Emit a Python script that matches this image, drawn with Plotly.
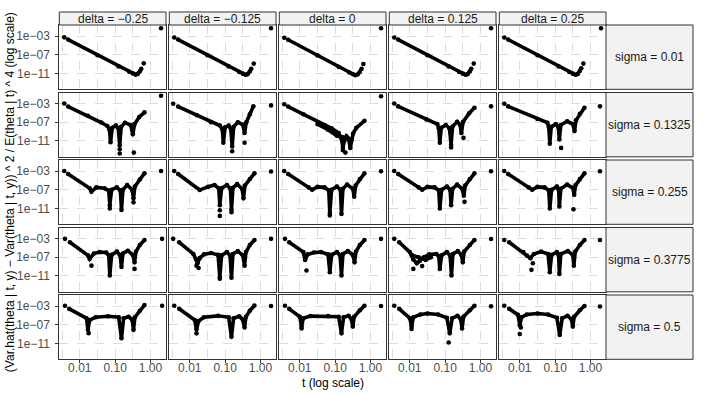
import plotly.graph_objects as go

# ---------------- labels ----------------
DELTAS = ["delta = \u22120.25", "delta = \u22120.125", "delta = 0", "delta = 0.125", "delta = 0.25"]
SIGMAS = ["sigma = 0.01", "sigma = 0.1325", "sigma = 0.255", "sigma = 0.3775", "sigma = 0.5"]
X_TICKS = [0.01, 0.1, 1.0]
X_TICK_TEXT = ["0.01", "0.10", "1.00"]
X_MINOR = [10 ** -2.5, 10 ** -1.5, 10 ** -0.5]
Y_TICKS = [1e-3, 1e-7, 1e-11]
Y_TICK_TEXT = ["1e\u221203", "1e\u221207", "1e\u221211"]
X_TITLE = "t (log scale)"
Y_TITLE = "(Var.hat(theta | t, y) \u2212 Var(theta | t, y)) ^ 2 / E(theta | t) ^ 4 (log scale)"

# ---------------- data: (log10 t, log10 value) ----------------
# BAND_rc = dense band of points (traced), DOTS_rc = isolated points
# row 1 : sigma = 0.01
BAND_11 = [(-2.33, -3.75), (-1.5, -7.1), (-0.9, -9.5), (-0.6, -10.65), (-0.5, -11.0), (-0.42, -11.25),
           (-0.36, -11.1), (-0.3, -10.6), (-0.26, -10.0)]
DOTS_11 = [(-2.44, -3.28), (-0.19, -8.85), (0.3, -1.35)]
BAND_12 = [(-2.33, -3.75), (-1.5, -7.1), (-0.9, -9.5), (-0.6, -10.7), (-0.5, -11.05), (-0.42, -11.3),
           (-0.36, -11.15), (-0.3, -10.6), (-0.26, -10.0)]
DOTS_12 = [(-2.44, -3.3), (-0.19, -8.9), (0.3, -1.35)]
BAND_13 = [(-2.33, -3.8), (-1.5, -7.15), (-0.9, -9.6), (-0.6, -10.8), (-0.5, -11.15), (-0.43, -11.4),
           (-0.36, -11.2), (-0.3, -10.7), (-0.25, -10.0)]
DOTS_13 = [(-2.44, -3.36), (-0.2, -9.0), (0.3, -1.35)]
BAND_14 = [(-2.33, -3.75), (-1.5, -7.1), (-0.9, -9.5), (-0.6, -10.7), (-0.5, -11.05), (-0.42, -11.3),
           (-0.36, -11.15), (-0.3, -10.6), (-0.26, -10.0)]
DOTS_14 = [(-2.44, -3.3), (-0.19, -8.9), (0.3, -1.35)]
BAND_15 = [(-2.33, -3.75), (-1.5, -7.1), (-0.9, -9.5), (-0.6, -10.7), (-0.5, -11.05), (-0.42, -11.3),
           (-0.36, -11.1), (-0.3, -10.5), (-0.26, -9.9)]
DOTS_15 = [(-2.44, -3.3), (-0.2, -8.9), (0.3, -1.35)]

# row 2 : sigma = 0.1325
BAND_21 = [(-2.33, -3.64), (-1.77, -5.6), (-1.39, -7.07), (-1.22, -7.8), (-1.16, -8.6), (-1.13, -11.3),
           (-1.08, -8.2), (-0.98, -7.7), (-0.91, -8.3), (-0.87, -12.0), (-0.83, -8.0), (-0.72, -7.1),
           (-0.56, -7.6), (-0.5, -9.6), (-0.45, -7.4), (-0.32, -5.9), (-0.17, -4.9)]
DOTS_21 = [(-2.44, -3.0), (-0.87, -12.8), (-0.87, -13.7), (-0.47, -13.5), (0.3, -1.35)]
BAND_22 = [(-2.33, -3.64), (-1.8, -5.5), (-1.4, -7.0), (-1.15, -7.7), (-1.08, -8.5), (-1.05, -11.4),
           (-1.0, -8.1), (-0.9, -7.7), (-0.84, -8.4), (-0.8, -12.2), (-0.76, -8.0), (-0.64, -7.0),
           (-0.5, -7.5), (-0.45, -9.3), (-0.4, -7.0), (-0.3, -5.3), (-0.2, -3.6)]
DOTS_22 = [(-2.47, -3.06), (-0.8, -13.2), (-0.45, -11.4), (0.3, -3.4)]
BAND_23 = [(-2.33, -3.64), (-1.9, -5.3), (-1.3, -7.6), (-1.1, -8.3), (-0.9, -9.3), (-0.82, -10.5),
           (-0.78, -12.5), (-0.74, -11.0), (-0.68, -10.0), (-0.62, -10.5), (-0.57, -12.5), (-0.54, -10.8),
           (-0.49, -9.4), (-0.4, -8.2), (-0.17, -6.7), None,
           (-1.5, -7.4), (-1.2, -8.6), (-0.95, -9.9), (-0.8, -10.2)]
DOTS_23 = [(-2.44, -3.15), (-0.71, -13.5), (-0.78, -13.0), (0.3, -1.45)]
BAND_24 = [(-2.33, -3.6), (-1.53, -6.4), (-1.22, -7.4), (-1.18, -8.3), (-1.15, -11.4), (-1.11, -8.2),
           (-0.98, -7.6), (-0.88, -8.3), (-0.83, -11.8), (-0.79, -7.9), (-0.66, -6.9), (-0.58, -7.5),
           (-0.54, -9.3), (-0.49, -6.9), (-0.32, -5.1), (-0.17, -3.9)]
DOTS_24 = [(-2.44, -3.0), (-0.83, -12.4), (-0.48, -10.35), (0.3, -3.6)]
BAND_25 = [(-2.33, -3.6), (-1.5, -6.3), (-1.22, -7.1), (-1.18, -8.0), (-1.15, -11.6), (-1.11, -8.0),
           (-0.98, -7.4), (-0.91, -8.0), (-0.88, -10.7), (-0.84, -7.6), (-0.66, -6.8), (-0.5, -7.4),
           (-0.45, -8.9), (-0.41, -6.6), (-0.3, -5.2), (-0.17, -3.9)]
DOTS_25 = [(-2.44, -3.05), (-0.83, -12.5), (0.27, -3.6)]

# row 3 : sigma = 0.255
BAND_31 = [(-2.33, -3.64), (-1.72, -6.7), (-1.67, -7.4), (-1.53, -6.5), (-1.3, -6.7), (-1.18, -7.2),
           (-1.15, -10.3), (-1.1, -7.0), (-0.95, -6.5), (-0.85, -7.2), (-0.82, -11.35), (-0.78, -7.0),
           (-0.66, -6.0), (-0.52, -7.0), (-0.48, -8.85), (-0.44, -6.3), (-0.3, -4.8), (-0.17, -3.5)]
DOTS_31 = [(-2.44, -3.0), (-1.15, -11.0), (-0.48, -9.7), (0.3, -3.0)]
BAND_32 = [(-2.33, -3.64), (-1.72, -7.07), (-1.48, -6.35), (-1.3, -6.0), (-1.18, -6.7), (-1.15, -10.3),
           (-1.1, -6.7), (-0.95, -6.0), (-0.85, -6.8), (-0.82, -11.35), (-0.78, -6.6), (-0.66, -5.8),
           (-0.52, -6.8), (-0.48, -8.85), (-0.44, -6.1), (-0.3, -4.7), (-0.17, -3.5)]
DOTS_32 = [(-2.44, -3.0), (-1.15, -11.4), (-1.15, -12.6), (-0.82, -11.8), (0.3, -3.1)]
BAND_33 = [(-2.33, -3.64), (-1.75, -6.5), (-1.65, -7.0), (-1.5, -6.4), (-1.3, -6.5), (-1.18, -7.1),
           (-1.15, -12.0), (-1.1, -7.0), (-0.95, -6.3), (-0.85, -7.0), (-0.82, -12.2), (-0.78, -6.8),
           (-0.66, -5.9), (-0.5, -6.8), (-0.46, -8.5), (-0.42, -6.1), (-0.3, -4.7), (-0.17, -3.5)]
DOTS_33 = [(-2.44, -3.0), (-1.15, -12.5), (0.3, -3.05)]
BAND_34 = [(-2.33, -3.64), (-1.75, -6.5), (-1.65, -7.0), (-1.5, -6.4), (-1.3, -6.5), (-1.18, -7.1),
           (-1.15, -11.0), (-1.1, -7.0), (-0.95, -6.3), (-0.86, -7.0), (-0.83, -10.3), (-0.79, -6.8),
           (-0.66, -5.9), (-0.52, -6.8), (-0.47, -8.3), (-0.43, -6.1), (-0.3, -4.7), (-0.17, -3.5)]
DOTS_34 = [(-2.44, -3.0), (-0.45, -9.6), (0.3, -3.05)]
BAND_35 = [(-2.33, -3.64), (-1.75, -6.5), (-1.65, -7.0), (-1.5, -6.4), (-1.3, -6.5), (-1.18, -7.1),
           (-1.15, -11.0), (-1.1, -7.0), (-0.95, -6.3), (-0.9, -7.0), (-0.88, -10.6), (-0.84, -6.8),
           (-0.66, -5.9), (-0.5, -6.6), (-0.46, -8.1), (-0.42, -6.0), (-0.3, -4.7), (-0.17, -3.5)]
DOTS_35 = [(-2.44, -3.0), (-0.48, -11.2), (0.27, -3.05)]

# row 4 : sigma = 0.3775
BAND_41 = [(-2.28, -3.8), (-1.77, -6.6), (-1.72, -7.35), (-1.6, -6.2), (-1.44, -5.9), (-1.25, -6.0),
           (-1.18, -6.6), (-1.15, -10.9), (-1.1, -6.5), (-0.95, -5.8), (-0.86, -6.6), (-0.82, -9.1),
           (-0.78, -6.2), (-0.64, -5.6), (-0.5, -6.5), (-0.45, -8.1), (-0.41, -5.8), (-0.3, -4.4),
           (-0.17, -3.3)]
DOTS_41 = [(-2.42, -3.07), (-1.67, -8.8), (-0.45, -9.5), (0.33, -3.07)]
BAND_42 = [(-2.3, -3.8), (-1.9, -6.3), (-1.83, -7.4), (-1.78, -8.3), (-1.72, -7.2), (-1.6, -6.4),
           (-1.4, -6.1), (-1.2, -6.5), (-1.15, -11.3), (-1.1, -6.6), (-0.95, -5.9), (-0.86, -6.6),
           (-0.82, -11.4), (-0.78, -6.3), (-0.64, -5.7), (-0.5, -6.6), (-0.45, -8.8), (-0.41, -5.9),
           (-0.3, -4.4), (-0.17, -3.3)]
DOTS_42 = [(-2.47, -3.07), (-1.81, -8.8), (-1.75, -9.3), (-1.15, -11.6), (0.3, -3.07)]
BAND_43 = [(-2.3, -3.8), (-1.9, -5.9), (-1.85, -7.6), (-1.78, -6.4), (-1.6, -6.0), (-1.4, -5.9),
           (-1.2, -6.4), (-1.15, -10.2), (-1.1, -6.5), (-0.95, -5.9), (-0.86, -6.6), (-0.82, -10.9),
           (-0.78, -6.3), (-0.64, -5.7), (-0.5, -6.5), (-0.45, -8.1), (-0.41, -5.8), (-0.3, -4.4),
           (-0.17, -3.3)]
DOTS_43 = [(-2.42, -3.07), (-1.81, -9.85), (0.3, -3.07)]
BAND_44 = [(-2.3, -3.8), (-2.0, -5.9), (-1.9, -7.5), (-1.8, -8.3), (-1.72, -7.8), (-1.6, -7.0),
           (-1.45, -6.4), (-1.25, -6.3), (-1.18, -6.8), (-1.15, -9.5), (-1.1, -6.6), (-0.95, -5.9),
           (-0.86, -6.6), (-0.82, -10.9), (-0.78, -6.3), (-0.64, -5.7), (-0.54, -6.5), (-0.5, -8.1),
           (-0.46, -5.8), (-0.3, -4.4), (-0.17, -3.3), None,
           (-1.95, -6.5), (-1.75, -7.0), (-1.55, -7.6), (-1.4, -7.0)]
DOTS_44 = [(-2.44, -3.07), (-1.9, -9.5), (-1.65, -8.9), (0.3, -3.1)]
BAND_45 = [(-2.3, -3.8), (-1.9, -5.9), (-1.8, -6.65), (-1.7, -7.2), (-1.6, -6.3), (-1.4, -5.8),
           (-1.2, -6.3), (-1.15, -10.2), (-1.1, -6.5), (-0.95, -5.9), (-0.9, -6.6), (-0.88, -10.6),
           (-0.84, -6.3), (-0.64, -5.7), (-0.5, -6.5), (-0.47, -8.8), (-0.43, -5.8), (-0.3, -4.4),
           (-0.17, -3.3)]
DOTS_45 = [(-2.44, -3.3), (-1.63, -8.3), (-1.67, -9.7), (0.27, -3.3)]

# row 5 : sigma = 0.5
BAND_51 = [(-2.3, -3.6), (-1.81, -5.6), (-1.77, -8.1), (-1.72, -6.0), (-1.55, -5.4), (-1.2, -5.2),
           (-0.9, -5.4), (-0.82, -9.9), (-0.76, -5.6), (-0.62, -5.3), (-0.52, -5.9), (-0.48, -8.1),
           (-0.44, -5.4), (-0.3, -4.0), (-0.17, -2.8)]
DOTS_51 = [(-2.42, -2.94), (-1.75, -8.8), (0.33, -2.94)]
BAND_52 = [(-2.3, -3.6), (-1.86, -6.0), (-1.81, -8.0), (-1.75, -6.2), (-1.6, -5.4), (-1.2, -5.1),
           (-0.9, -5.4), (-0.82, -9.6), (-0.76, -5.6), (-0.6, -5.2), (-0.5, -5.9), (-0.45, -7.6),
           (-0.41, -5.3), (-0.3, -4.0), (-0.17, -2.9)]
DOTS_52 = [(-2.44, -2.94), (-1.81, -8.85), (0.3, -3.0)]
BAND_53 = [(-2.3, -3.6), (-2.0, -5.3), (-1.95, -7.4), (-1.9, -5.6), (-1.7, -5.15), (-1.2, -5.15),
           (-0.9, -5.3), (-0.82, -8.85), (-0.76, -5.4), (-0.62, -5.1), (-0.54, -5.8), (-0.5, -7.4),
           (-0.46, -5.3), (-0.3, -3.9), (-0.17, -2.94)]
DOTS_53 = [(-2.42, -2.94), (-1.95, -7.8), (0.3, -3.0)]
BAND_54 = [(-2.3, -3.6), (-2.0, -5.6), (-1.95, -7.4), (-1.9, -5.4), (-1.7, -4.8), (-1.5, -4.6),
           (-1.2, -4.8), (-0.95, -5.5), (-0.87, -8.85), (-0.8, -5.6), (-0.65, -5.1), (-0.56, -5.8),
           (-0.52, -7.8), (-0.48, -5.3), (-0.3, -3.9), (-0.17, -2.94)]
DOTS_54 = [(-2.44, -2.94), (-1.95, -7.9), (-0.9, -10.8), (0.3, -3.05)]
BAND_55 = [(-2.3, -3.6), (-2.05, -4.9), (-2.0, -7.1), (-1.95, -5.4), (-1.8, -4.8), (-1.5, -4.6),
           (-1.2, -4.8), (-0.95, -5.5), (-0.87, -9.2), (-0.8, -5.6), (-0.65, -5.1), (-0.54, -5.8),
           (-0.5, -7.4), (-0.46, -5.3), (-0.3, -3.9), (-0.17, -3.0)]
DOTS_55 = [(-2.44, -2.94), (-2.0, -9.0), (-1.97, -7.6), (0.27, -3.1)]

BANDS = [[BAND_11, BAND_12, BAND_13, BAND_14, BAND_15],
         [BAND_21, BAND_22, BAND_23, BAND_24, BAND_25],
         [BAND_31, BAND_32, BAND_33, BAND_34, BAND_35],
         [BAND_41, BAND_42, BAND_43, BAND_44, BAND_45],
         [BAND_51, BAND_52, BAND_53, BAND_54, BAND_55]]
DOTS = [[DOTS_11, DOTS_12, DOTS_13, DOTS_14, DOTS_15],
        [DOTS_21, DOTS_22, DOTS_23, DOTS_24, DOTS_25],
        [DOTS_31, DOTS_32, DOTS_33, DOTS_34, DOTS_35],
        [DOTS_41, DOTS_42, DOTS_43, DOTS_44, DOTS_45],
        [DOTS_51, DOTS_52, DOTS_53, DOTS_54, DOTS_55]]

# ---------------- layout geometry (pixels) ----------------
W, H = 706, 394
PANEL_L0, PANEL_W, PANEL_STEP = 59.3, 106.7, 110.0
PANEL_T0, PANEL_H, ROW_STEP = 25.0, 64.3, 67.5
STRIP_TOP = 12.0
RSTRIP_R = 693.0
X_RANGE = [-2.58, 0.44]
Y_RANGE = [-14.4, -0.64]

FONT = "Liberation Sans, Arial, Helvetica, sans-serif"
BORDER = "#333333"
GRID = "#DCDCDC"
STRIP_FILL = "#F2F2F2"


def unpack(pairs):
    xs, ys = [], []
    for p in pairs:
        if p is None:
            xs.append(None)
            ys.append(None)
        else:
            xs.append(10 ** p[0])
            ys.append(10 ** p[1])
    return xs, ys


fig = go.Figure()
shapes = []
annotations = []
layout_axes = {}

for r in range(5):
    for c in range(5):
        i = r * 5 + c + 1
        suffix = "" if i == 1 else str(i)
        x0 = PANEL_L0 + c * PANEL_STEP
        x1 = x0 + PANEL_W
        y0 = PANEL_T0 + r * ROW_STEP
        y1 = y0 + PANEL_H

        bx, by = unpack(BANDS[r][c])
        fig.add_trace(go.Scatter(x=bx, y=by, mode="lines+markers", xaxis="x" + suffix, yaxis="y" + suffix,
                                 line=dict(color="black", width=3.6),
                                 marker=dict(color="black", size=4.6), hoverinfo="skip"))
        dx, dy = unpack(DOTS[r][c])
        fig.add_trace(go.Scatter(x=dx, y=dy, mode="markers", xaxis="x" + suffix, yaxis="y" + suffix,
                                 marker=dict(color="black", size=4.6), hoverinfo="skip"))

        bottom = (r == 4)
        left = (c == 0)
        layout_axes["xaxis" + suffix] = dict(
            type="log", range=X_RANGE, domain=[x0 / W, x1 / W], anchor="y" + suffix,
            automargin=False,
            tickmode="array", tickvals=X_TICKS, ticktext=X_TICK_TEXT,
            showticklabels=bottom, ticks="outside" if bottom else "", ticklen=3, tickcolor=BORDER,
            ticklabelstandoff=-6,
            tickfont=dict(family=FONT, size=12, color="#4D4D4D"),
            showgrid=True, gridcolor=GRID, griddash="dash", gridwidth=1,
            minor=dict(tickmode="array", tickvals=X_MINOR, showgrid=True, gridcolor=GRID,
                       griddash="dash", gridwidth=0.8, ticks=""),
            zeroline=False, showline=True, mirror=True, linecolor=BORDER, linewidth=1,
            fixedrange=True)
        layout_axes["yaxis" + suffix] = dict(
            type="log", range=Y_RANGE, domain=[1 - y1 / H, 1 - y0 / H], anchor="x" + suffix,
            automargin=False,
            tickmode="array", tickvals=Y_TICKS, ticktext=Y_TICK_TEXT,
            showticklabels=left, ticks="outside" if left else "", ticklen=3, tickcolor=BORDER,
            ticklabelstandoff=3,
            tickfont=dict(family=FONT, size=12, color="#4D4D4D"),
            showgrid=True, gridcolor=GRID, griddash="dash", gridwidth=1,
            zeroline=False, showline=True, mirror=True, linecolor=BORDER, linewidth=1,
            fixedrange=True)

# top strips
for c in range(5):
    x0 = PANEL_L0 + c * PANEL_STEP
    x1 = x0 + PANEL_W
    shapes.append(dict(type="rect", xref="paper", yref="paper", x0=x0 / W, x1=x1 / W,
                       y0=1 - PANEL_T0 / H, y1=1 - STRIP_TOP / H,
                       fillcolor=STRIP_FILL, line=dict(color=BORDER, width=1)))
    annotations.append(dict(text=DELTAS[c], xref="paper", yref="paper",
                            x=(x0 + x1) / 2 / W, y=1 - (PANEL_T0 + STRIP_TOP) / 2 / H,
                            showarrow=False, xanchor="center", yanchor="middle",
                            font=dict(family=FONT, size=12, color="#1A1A1A")))

# right strips
rs_x0 = PANEL_L0 + 4 * PANEL_STEP + PANEL_W
for r in range(5):
    y0 = PANEL_T0 + r * ROW_STEP
    y1 = y0 + PANEL_H
    shapes.append(dict(type="rect", xref="paper", yref="paper", x0=rs_x0 / W, x1=RSTRIP_R / W,
                       y0=1 - y1 / H, y1=1 - y0 / H,
                       fillcolor=STRIP_FILL, line=dict(color=BORDER, width=1)))
    annotations.append(dict(text=SIGMAS[r], xref="paper", yref="paper",
                            x=(rs_x0 + RSTRIP_R) / 2 / W, y=1 - (y0 + y1) / 2 / H,
                            showarrow=False, xanchor="center", yanchor="middle",
                            font=dict(family=FONT, size=12, color="#1A1A1A")))

# axis titles
plot_l = PANEL_L0
plot_r = PANEL_L0 + 4 * PANEL_STEP + PANEL_W
plot_t = PANEL_T0
plot_b = PANEL_T0 + 4 * ROW_STEP + PANEL_H
annotations.append(dict(text=X_TITLE, xref="paper", yref="paper",
                        x=(plot_l + plot_r) / 2 / W, y=1 - 383 / H,
                        showarrow=False, xanchor="center", yanchor="middle",
                        font=dict(family=FONT, size=12, color="black")))
annotations.append(dict(text=Y_TITLE, xref="paper", yref="paper",
                        x=10 / W, y=1 - (plot_t + plot_b) / 2 / H, textangle=-90,
                        showarrow=False, xanchor="center", yanchor="middle",
                        font=dict(family=FONT, size=12, color="black")))

fig.update_layout(width=W, height=H, margin=dict(l=0, r=0, t=0, b=0, autoexpand=False),
                  paper_bgcolor="white", plot_bgcolor="white", showlegend=False,
                  shapes=shapes, annotations=annotations, **layout_axes)

fig.write_html("out.html", config={"displayModeBar": False},
               post_script="document.body.style.margin='0px';"
                           "document.body.style.padding='0px';"
                           "document.body.style.overflow='hidden';")
